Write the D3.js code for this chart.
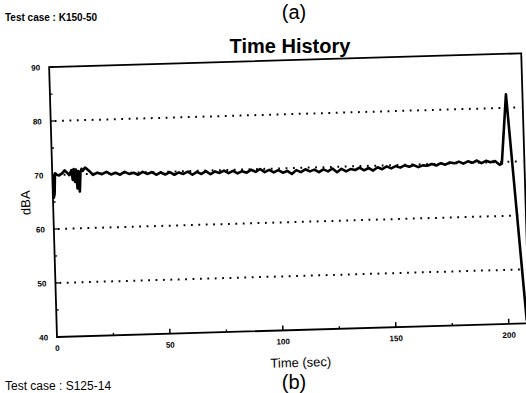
<!DOCTYPE html>
<html><head><meta charset="utf-8">
<script src="https://cdn.jsdelivr.net/npm/d3@7"></script>
<style>
html,body{margin:0;padding:0;background:#fff;}
svg{display:block;}
text{font-family:"Liberation Sans",Arial,Helvetica,sans-serif;fill:#000;}
</style></head>
<body>
<script>
// ---- data ----
const time = [0,0.4,0.8,1.2,1.8,3,4.5,5.5,6.5,7.5,8.5,9,9.5,10,10.5,11,11.5,12,12.5,13,13.5,14.5,15.5,17,
 18,20,22,24,26,28,30,32,34,36,38,40,42,44,46,48,50,52,54,56,58,60,62,64,66,68,70,72,74,76,78,80,82,84,86,88,90,92,94,96,98,
 100,102,104,106,108,110,112,114,116,118,120,122,124,126,128,130,132,134,136,138,140,142,144,146,148,150,152,154,156,158,160,
 162,164,166,168,170,172,174,176,178,180,182,184,186,188,190,192,194,196,198,199,201.7,208];
const dBA = [70.2,65.8,66.5,70.3,70.1,69.9,70.3,70.8,70.4,69.9,70.8,69.0,71.0,68.6,70.9,67.4,70.6,66.8,70.4,71.0,70.6,71.2,70.9,70.3,
 69.8,70.2,69.9,70.3,69.8,70.1,69.7,70.2,69.8,70.0,69.6,70.1,69.7,70.0,69.5,69.9,69.5,69.9,69.4,69.8,69.5,69.9,69.3,69.8,69.4,69.9,69.3,69.8,69.5,69.9,69.4,69.8,69.3,69.7,69.4,69.9,69.5,70.0,69.4,69.8,69.3,
 69.7,69.2,69.5,68.9,69.6,69.2,69.7,69.3,69.6,69.1,69.6,69.2,69.7,69.0,69.6,69.1,69.5,69.3,69.7,69.2,69.6,69.1,69.7,69.3,69.8,69.4,69.8,69.5,69.9,69.6,69.9,
 69.5,69.8,69.7,70.0,69.7,70.1,69.8,70.2,70.0,70.3,69.9,70.3,70.0,70.4,69.9,70.3,70.0,70.2,69.5,69.7,82.5,40.5];
const xDomain = [0, 209];
const yDomain = [40, 90];
const xMajorTicks = [0, 50, 100, 150, 200];
const xMinorTicks = [25, 75, 125, 175];
const yMajorTicks = [40, 50, 60, 70, 80, 90];
const yMinorTicks = [45, 55, 65, 75, 85];
const gridValues = [50, 60, 70, 80];

// ---- drawing ----
const W = 526, H = 393;
const svg = d3.select("body").append("svg").attr("width", W).attr("height", H);

const x = d3.scaleLinear().domain(xDomain).range([0, 472.3]);
const y = d3.scaleLinear().domain(yDomain).range([0, -270]);

const g = svg.append("g").attr("transform", "translate(57,337) rotate(-1.67)");

g.append("clipPath").attr("id", "clip").append("rect")
  .attr("x", 0).attr("y", y(90)).attr("width", x(xDomain[1])).attr("height", -y(90));

// gridlines
g.selectAll("line.grid").data(gridValues).enter().append("line")
  .attr("class", "grid")
  .attr("x1", 4).attr("x2", x(xDomain[1]) - 2)
  .attr("y1", d => y(d)).attr("y2", d => y(d))
  .attr("stroke", "#000").attr("stroke-width", 2)
  .attr("stroke-dasharray", "1.8,5.6");

// frame
g.append("rect").attr("x", 0).attr("y", y(90))
  .attr("width", x(xDomain[1])).attr("height", -y(90))
  .attr("fill", "none").attr("stroke", "#000").attr("stroke-width", 1.8);

// x ticks (inward)
g.selectAll("line.xmaj").data(xMajorTicks.filter(d => d > 0)).enter().append("line")
  .attr("x1", d => x(d)).attr("x2", d => x(d)).attr("y1", 0).attr("y2", -5)
  .attr("stroke", "#000").attr("stroke-width", 1.5);
g.selectAll("line.xmin").data(xMinorTicks).enter().append("line")
  .attr("x1", d => x(d)).attr("x2", d => x(d)).attr("y1", 0).attr("y2", -2.5)
  .attr("stroke", "#000").attr("stroke-width", 1.3);
// y ticks (inward)
g.selectAll("line.ymaj").data(yMajorTicks).enter().append("line")
  .attr("x1", 0).attr("x2", 4).attr("y1", d => y(d)).attr("y2", d => y(d))
  .attr("stroke", "#000").attr("stroke-width", 1.3);
g.selectAll("line.ymin").data(yMinorTicks).enter().append("line")
  .attr("x1", 0).attr("x2", 2.5).attr("y1", d => y(d)).attr("y2", d => y(d))
  .attr("stroke", "#000").attr("stroke-width", 1.3);

// tick labels
g.selectAll("text.xl").data(xMajorTicks).enter().append("text")
  .attr("x", d => x(d)).attr("y", 14)
  .attr("text-anchor", "middle").attr("font-size", 8).attr("font-weight", "bold")
  .text(d => d);
g.selectAll("text.yl").data(yMajorTicks).enter().append("text")
  .attr("x", -9).attr("y", d => y(d) + 3)
  .attr("text-anchor", "end").attr("font-size", 8).attr("font-weight", "bold")
  .text(d => d);

// series line
const pts = time.map((t, i) => [t, dBA[i]]);
g.append("path").datum(pts)
  .attr("clip-path", "url(#clip)")
  .attr("d", d3.line().x(d => x(d[0])).y(d => y(d[1])))
  .attr("fill", "none").attr("stroke", "#000").attr("stroke-width", 2.6)
  .attr("stroke-linejoin", "round");

// axis titles
g.append("text").attr("transform", `translate(-23,${y(65)}) rotate(-90)`)
  .attr("text-anchor", "middle").attr("font-size", 13).text("dBA");
g.append("text").attr("x", 243).attr("y", 37)
  .attr("text-anchor", "middle").attr("font-size", 13).text("Time (sec)");

// page texts
svg.append("text").attr("x", 290).attr("y", 53).attr("text-anchor", "middle")
  .attr("font-size", 20).attr("font-weight", "bold").text("Time History");
svg.append("text").attr("x", 294).attr("y", 19).attr("text-anchor", "middle")
  .attr("font-size", 20).text("(a)");
svg.append("text").attr("x", 294).attr("y", 389).attr("text-anchor", "middle")
  .attr("font-size", 20).text("(b)");
svg.append("text").attr("x", 5).attr("y", 21)
  .attr("font-size", 10).attr("font-weight", "bold").text("Test case : K150-50");
svg.append("text").attr("x", 5).attr("y", 390)
  .attr("font-size", 12).text("Test case : S125-14");
</script>
</body></html>
